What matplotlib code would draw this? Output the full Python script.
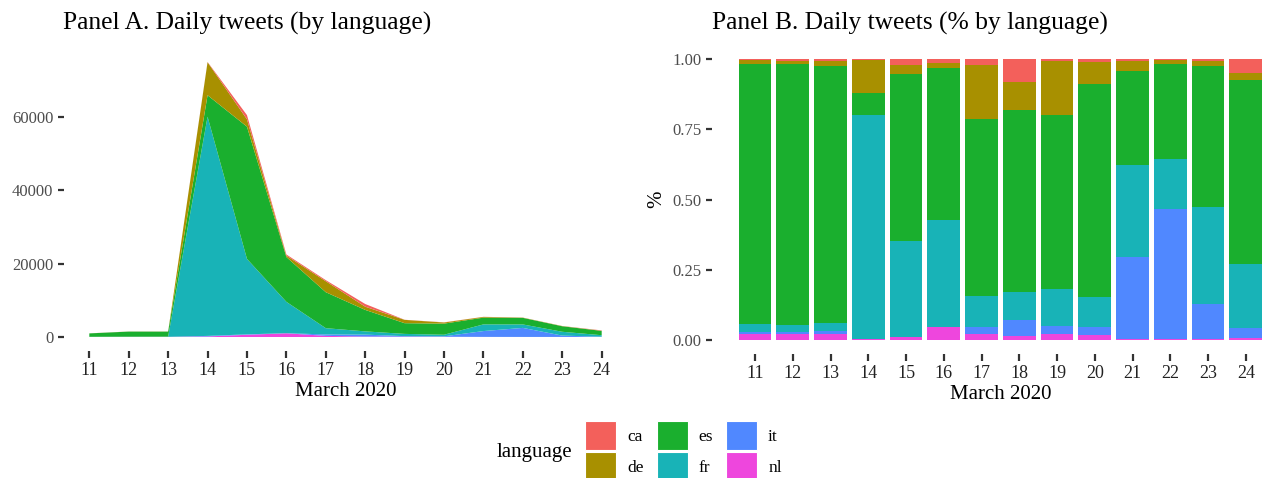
import numpy as np
import matplotlib
matplotlib.use('Agg')
import matplotlib.pyplot as plt
from matplotlib.patches import Patch

plt.rcParams['font.family'] = ['Liberation Serif', 'DejaVu Serif']

#### Data ######################################################################
# daily tweet counts per language, 11-24 March 2020
days = [11, 12, 13, 14, 15, 16, 17, 18, 19, 20, 21, 22, 23, 24]
languages = ['ca', 'de', 'es', 'fr', 'it', 'nl']

ca = [4, 7, 8, 75, 1150, 315, 295, 738, 28, 44, 28, 21, 18, 86]
de = [14, 20, 28, 9000, 1997, 383, 2992, 873, 907, 308, 193, 58, 54, 47]
es = [926, 1395, 1371, 5850, 36058, 12218, 9812, 5859, 2919, 3032, 1843, 1797, 1503, 1181]
fr = [26, 36, 45, 59775, 20570, 8550, 1705, 882, 611, 436, 1820, 943, 1044, 407]
it = [9, 12, 15, 150, 121, 22, 388, 531, 132, 116, 1590, 2465, 366, 68]
nl = [21, 30, 33, 150, 605, 1013, 310, 117, 103, 64, 28, 16, 15, 11]

colors = {'ca': '#F3605B', 'de': '#A89000', 'es': '#1AAF2E',
          'fr': '#18B3B7', 'it': '#5088FF', 'nl': '#EE46DD'}

yticks_a = [0, 20000, 40000, 60000]
yticks_b = [0.0, 0.25, 0.5, 0.75, 1.0]

#### Figure ####################################################################
W, H = 1265, 478
fig = plt.figure(figsize=(W / 100, H / 100), dpi=100)
ax_a = fig.add_axes([63.7 / W, 1 - 350.75 / H, 563.6 / W, 302.55 / H])
ax_b = fig.add_axes([711.8 / W, 1 - 354 / H, 577.2 / W, 308.7 / H])

# stacking order, bottom to top
stack = [('nl', nl), ('it', it), ('fr', fr), ('es', es), ('de', de), ('ca', ca)]
x = np.array(days)

# Panel A: stacked areas
ax_a.stackplot(x, *[np.array(v) for _, v in stack],
               colors=[colors[k] for k, _ in stack], linewidth=0)
total = np.sum([np.array(v) for _, v in stack], axis=0)
ymax = total.max()
ax_a.set_xlim(days[0] - 0.65, days[-1] + 0.65)
ax_a.set_ylim(-0.05 * ymax, 1.05 * ymax)
ax_a.set_yticks(yticks_a)
ax_a.set_yticklabels([str(v) for v in yticks_a])

# Panel B: share of each language per day
bottom = np.zeros(len(days))
for k, v in stack:
    share = np.array(v) / total
    ax_b.bar(x, share, bottom=bottom, width=0.87, color=colors[k], linewidth=0)
    bottom += share
ax_b.set_xlim(days[0] - 1.145, days[-1] + 1.145)
ax_b.set_ylim(-0.05, 1.05)
ax_b.set_yticks(yticks_b)
ax_b.set_yticklabels(['%.2f' % v for v in yticks_b])
ax_b.set_ylabel('%', fontsize=15, labelpad=4)

for ax in (ax_a, ax_b):
    for s in ax.spines.values():
        s.set_visible(False)
    ax.set_xticks(days)
    ax.set_xticklabels([str(d) for d in days])
    ax.tick_params(axis='x', labelsize=13, colors='#333333', labelcolor='#222222',
                   length=5, width=1.6, pad=3)
    ax.tick_params(axis='y', labelsize=12, colors='#333333', labelcolor='#4D4D4D',
                   length=4.5, width=1.6, pad=3)
    ax.set_xlabel('March 2020', fontsize=15, labelpad=2)
    ax.set_facecolor('white')

fig.text(63 / W, 1 - 30 / H, 'Panel A. Daily tweets (by language)',
         fontsize=18.4, va='baseline', ha='left')
fig.text(712 / W, 1 - 30 / H, 'Panel B. Daily tweets (% by language)',
         fontsize=18.4, va='baseline', ha='left')

# legend, title on the left like ggplot's bottom legend
handles = [Patch(facecolor=colors[k], edgecolor='white', linewidth=0.8) for k in languages]
fig.text(572 / W, 1 - 453 / H, 'language', fontsize=15, ha='right', va='center')
fig.legend(handles, languages, ncol=3, loc='upper left',
           bbox_to_anchor=(585 / W, 1 - 420.7 / H), frameon=False,
           fontsize=12.5, handlelength=1.79, handleheight=2.19,
           labelspacing=0.15, columnspacing=0.75, handletextpad=0.63,
           borderpad=0, borderaxespad=0)

fig.savefig('out.png', dpi=100)
